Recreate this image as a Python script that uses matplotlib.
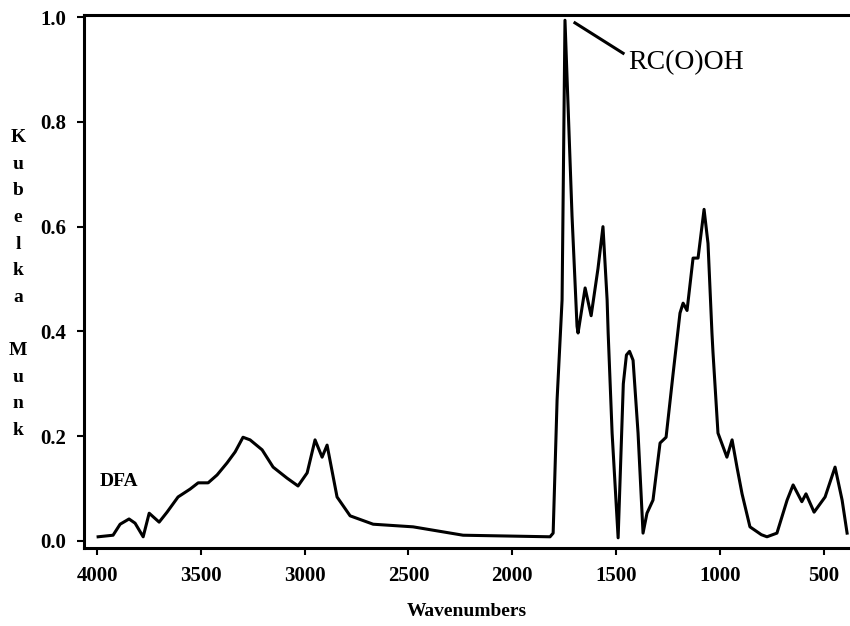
import matplotlib
matplotlib.use("Agg")
import matplotlib.pyplot as plt

# DFA spectrum, Kubelka-Munk vs wavenumber
wavenumber = [3995, 3923, 3889, 3846, 3817, 3778, 3749, 3701, 3663, 3610,
              3552, 3513, 3465, 3422, 3374, 3335, 3297, 3263, 3205, 3152,
              3085, 3032, 2988, 2950, 2916, 2892, 2844, 2781, 2670, 2478,
              2237, 1818, 1803, 1784, 1760, 1746, 1712, 1688, 1683, 1649,
              1620, 1587, 1563, 1543, 1538, 1519, 1490, 1465, 1450, 1435, 1418,
              1394, 1370, 1351, 1322, 1288, 1259, 1225, 1192, 1177, 1158,
              1129, 1105, 1076, 1057, 1038, 1033, 1009, 966, 941, 917,
              893, 855, 800, 773, 725, 676, 647, 605, 585, 546, 493,
              445, 411, 387]
km = [0.008, 0.011, 0.032, 0.042, 0.034, 0.008, 0.053, 0.036, 0.055, 0.084,
      0.099, 0.111, 0.111, 0.126, 0.149, 0.170, 0.198, 0.193, 0.174, 0.141,
      0.120, 0.105, 0.130, 0.193, 0.160, 0.183, 0.084, 0.048, 0.032, 0.027,
      0.011, 0.008, 0.015, 0.270, 0.460, 0.994, 0.620, 0.410, 0.397, 0.483,
      0.430, 0.520, 0.600, 0.460, 0.397, 0.206, 0.006, 0.300, 0.355, 0.362, 0.345,
      0.206, 0.015, 0.053, 0.078, 0.187, 0.198, 0.320, 0.435, 0.454, 0.440,
      0.540, 0.540, 0.633, 0.568, 0.397, 0.360, 0.206, 0.160, 0.193, 0.140,
      0.090, 0.027, 0.012, 0.008, 0.015, 0.078, 0.107, 0.075, 0.090, 0.055, 0.084,
      0.141, 0.078, 0.015]

x_ticks = [4000, 3500, 3000, 2500, 2000, 1500, 1000, 500]
y_ticks = [0.0, 0.2, 0.4, 0.6, 0.8, 1.0]

serif = ['Liberation Serif', 'DejaVu Serif']

fig = plt.figure(figsize=(8.5, 6.26), dpi=100)
ax = fig.add_axes([84 / 850, 1 - 548 / 626, 1 - 84 / 850, (548 - 15) / 626])

ax.plot(wavenumber, km, color='black', linewidth=2.2)

ax.set_xlim(4063, 373)
ax.set_ylim(-0.0134, 1.004)
ax.set_xticks(x_ticks)
ax.set_yticks(y_ticks)
ax.set_xticklabels([str(t) for t in x_ticks], fontfamily=serif, fontweight='bold', fontsize=15)
ax.set_yticklabels(['%.1f' % t for t in y_ticks], fontfamily=serif, fontweight='bold', fontsize=15)
ax.tick_params(axis='both', direction='out', width=1.5, length=5, color='black', pad=8)

for side in ['left', 'bottom', 'top']:
    ax.spines[side].set_linewidth(2.2)
ax.spines['right'].set_visible(False)

ax.set_xlabel('Wavenumbers', fontfamily=serif, fontweight='bold', fontsize=14, labelpad=12)

# stacked y-label letters
fig.text(18 / 850, 1 - 284 / 626, 'K\nu\nb\ne\nl\nk\na\n\nM\nu\nn\nk',
         ha='center', va='center', multialignment='center', linespacing=1.74,
         fontfamily=serif, fontweight='bold', fontsize=14)

ax.text(3986, 0.113, 'DFA', ha='left', va='center',
        fontfamily=serif, fontweight='bold', fontsize=14)

ax.plot([1698, 1466], [0.989, 0.931], color='black', linewidth=2.2)
ax.text(1442, 0.914, 'RC(O)OH', ha='left', va='center',
        fontfamily=serif, fontsize=20)

fig.savefig('out.png', dpi=100)
